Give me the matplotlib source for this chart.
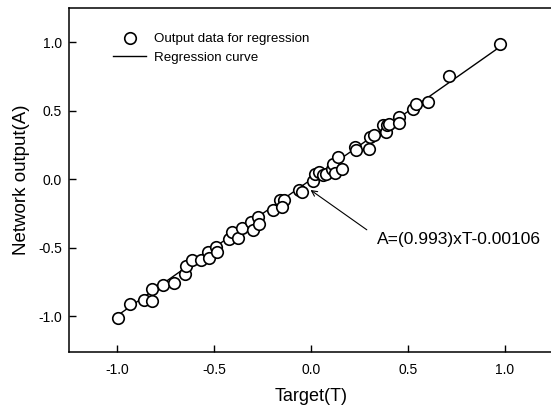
import numpy as np
import matplotlib
matplotlib.use('Agg')
import matplotlib.pyplot as plt
from matplotlib.ticker import FormatStrFormatter

plt.rcParams['font.family'] = ['Liberation Sans', 'DejaVu Sans']
plt.rcParams['axes.unicode_minus'] = False

# data
target = [-0.996, -0.933, -0.861, -0.820, -0.821, -0.765, -0.706, -0.651, -0.648,
          -0.613, -0.569, -0.533, -0.529, -0.491, -0.485, -0.423, -0.406, -0.380,
          -0.357, -0.309, -0.301, -0.272, -0.267, -0.198, -0.160, -0.140, -0.150,
          -0.065, -0.048, 0.012, 0.021, 0.038, 0.063, 0.077, 0.107, 0.115, 0.124,
          0.141, 0.158, 0.227, 0.232, 0.301, 0.304, 0.325, 0.373, 0.387, 0.393,
          0.404, 0.455, 0.455, 0.527, 0.541, 0.601, 0.711, 0.974]
output = [-1.012, -0.912, -0.883, -0.888, -0.798, -0.774, -0.757, -0.693, -0.635,
          -0.586, -0.591, -0.530, -0.572, -0.494, -0.530, -0.436, -0.385, -0.426,
          -0.355, -0.311, -0.367, -0.275, -0.328, -0.226, -0.150, -0.153, -0.200,
          -0.080, -0.093, -0.010, 0.036, 0.053, 0.029, 0.036, 0.078, 0.109, 0.046,
          0.163, 0.078, 0.236, 0.212, 0.224, 0.309, 0.321, 0.394, 0.345, 0.394,
          0.407, 0.455, 0.414, 0.510, 0.547, 0.564, 0.754, 0.985]
slope = 0.993
intercept = -0.00106
xticks = [-1.0, -0.5, 0.0, 0.5, 1.0]
yticks = [-1.0, -0.5, 0.0, 0.5, 1.0]

fig = plt.figure(figsize=(5.51, 4.07), dpi=100)
ax = fig.add_axes([0.1252, 0.1351, 0.879, 0.8452])

line_x = np.array([min(target), max(target)])
ax.plot(target, output, 'o', mfc='white', mec='black', ms=8.3, mew=1.2,
        label='Output data for regression', zorder=3)
ax.plot(line_x, slope * line_x + intercept, '-', color='black', lw=1.0,
        label='Regression curve', zorder=2)

ax.set_xlim(-1.25, 1.25)
ax.set_ylim(-1.26, 1.25)
ax.set_xticks(xticks)
ax.set_yticks(yticks)
ax.xaxis.set_major_formatter(FormatStrFormatter('%.1f'))
ax.yaxis.set_major_formatter(FormatStrFormatter('%.1f'))
ax.tick_params(direction='in', length=5, width=1, labelsize=10)
ax.tick_params(axis='x', pad=8)
ax.tick_params(axis='y', pad=5)
for s in ax.spines.values():
    s.set_linewidth(1.1)

ax.set_xlabel('Target(T)', fontsize=13, labelpad=8)
ax.set_ylabel('Network output(A)', fontsize=13.5, labelpad=6)

ax.legend(loc='upper left', bbox_to_anchor=(113 / 551, 1 - 33 / 407),
          bbox_transform=fig.transFigure, frameon=False, numpoints=1,
          fontsize=9.6, handlelength=2.5, handletextpad=0.6, borderpad=0,
          borderaxespad=0, labelspacing=0.45)

ax.annotate('', xy=(-0.015, -0.066), xytext=(0.299, -0.380),
            arrowprops=dict(arrowstyle='->', lw=0.8, color='black'))
ax.text(0.341, -0.438, 'A=(0.993)xT-0.00106', fontsize=12.5, va='center', ha='left')

fig.savefig('out.png', dpi=100)
